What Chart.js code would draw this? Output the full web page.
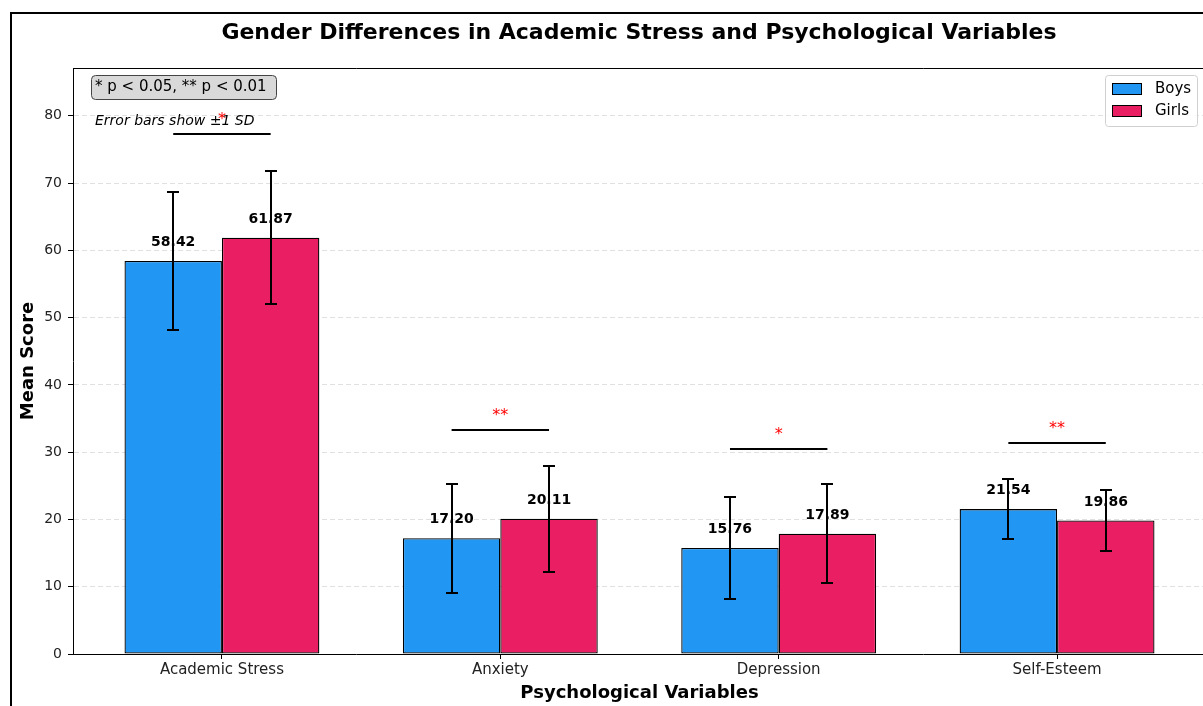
<!DOCTYPE html>
<html>
<head>
<meta charset="utf-8">
<script src="https://cdn.jsdelivr.net/npm/chart.js@4"></script>
<style>
  html, body { margin: 0; padding: 0; background: #fff; overflow: hidden; }
  #frame { position: absolute; left: 10px; top: 12px; width: 1254px; height: 700px; border: 2px solid #000; }
  canvas { display: block; }
</style>
</head>
<body>
<div id="frame"><canvas id="chart" width="1254" height="700"></canvas></div>
<script>
// data
const categories = ['Academic Stress', 'Anxiety', 'Depression', 'Self-Esteem'];
const boysMean = [58.42, 17.20, 15.76, 21.54];
const girlsMean = [61.87, 20.11, 17.89, 19.86];
const boysSD = [10.3, 8.1, 7.6, 4.4];
const girlsSD = [9.9, 7.9, 7.4, 4.5];
const sigLevel = [77.3, 33.3, 30.5, 31.3];
const sigMarks = ['*', '**', '*', '**'];
const yTicks = [0, 10, 20, 30, 40, 50, 60, 70, 80];

const FONT = '"DejaVu Sans", sans-serif';
Chart.defaults.font.family = FONT;
Chart.defaults.color = '#222';

const overlay = {
    id: 'overlay',
    afterDatasetsDraw(chart) {
        const ctx = chart.ctx;
        const y = chart.scales.y;
        const sds = [boysSD, girlsSD];
        ctx.save();

        // value labels
        ctx.font = 'bold 14px ' + FONT;
        ctx.fillStyle = '#000';
        ctx.textAlign = 'center';
        ctx.textBaseline = 'middle';
        chart.data.datasets.forEach((ds, di) => {
            chart.getDatasetMeta(di).data.forEach((bar, i) => {
                const v = ds.data[i].y;
                ctx.fillText(v.toFixed(2), bar.x, y.getPixelForValue(v) - 18.5);
            });
        });

        // error bars (+/- 1 SD)
        ctx.strokeStyle = '#000';
        ctx.lineWidth = 2;
        chart.data.datasets.forEach((ds, di) => {
            chart.getDatasetMeta(di).data.forEach((bar, i) => {
                const v = ds.data[i].y, sd = sds[di][i];
                const x = Math.round(bar.x);
                const yt = Math.round(y.getPixelForValue(v + sd));
                const yb = Math.round(y.getPixelForValue(v - sd));
                ctx.beginPath();
                ctx.moveTo(x, yt); ctx.lineTo(x, yb);
                ctx.moveTo(x - 6, yt); ctx.lineTo(x + 6, yt);
                ctx.moveTo(x - 6, yb); ctx.lineTo(x + 6, yb);
                ctx.stroke();
            });
        });

        // significance brackets
        const boys = chart.getDatasetMeta(0).data;
        const girls = chart.getDatasetMeta(1).data;
        categories.forEach((c, i) => {
            const ly = Math.round(y.getPixelForValue(sigLevel[i]));
            ctx.strokeStyle = '#000';
            ctx.lineWidth = 2;
            ctx.beginPath();
            ctx.moveTo(boys[i].x, ly);
            ctx.lineTo(girls[i].x, ly);
            ctx.stroke();
            ctx.fillStyle = '#ff0000';
            ctx.font = '16px ' + FONT;
            ctx.textBaseline = 'alphabetic';
            ctx.fillText(sigMarks[i], (boys[i].x + girls[i].x) / 2, ly - 10);
        });
        ctx.restore();
    },
    afterDraw(chart) {
        const ctx = chart.ctx;
        const a = chart.chartArea;
        ctx.save();

        // top / right spines
        ctx.strokeStyle = '#000';
        ctx.lineWidth = 1;
        ctx.beginPath();
        ctx.moveTo(Math.round(a.left) + 0.5, Math.round(a.top) + 0.5);
        ctx.lineTo(Math.round(a.right) + 0.5, Math.round(a.top) + 0.5);
        ctx.lineTo(Math.round(a.right) + 0.5, Math.round(a.bottom) + 0.5);
        ctx.stroke();

        // legend (upper right, inside the axes)
        const bx = a.right - 101, by = a.top + 7;
        ctx.beginPath();
        ctx.roundRect(bx + 0.5, by + 0.5, 92, 51, 3);
        ctx.fillStyle = 'rgba(255,255,255,0.85)';
        ctx.fill();
        ctx.strokeStyle = '#d0d0d0';
        ctx.stroke();
        ctx.font = '15px ' + FONT;
        ctx.textAlign = 'left';
        ctx.textBaseline = 'middle';
        chart.data.datasets.forEach((ds, k) => {
            const py = by + 8 + k * 22;
            ctx.fillStyle = ds.backgroundColor;
            ctx.fillRect(bx + 7.5, py + 0.5, 29, 11);
            ctx.strokeStyle = '#000';
            ctx.strokeRect(bx + 7.5, py + 0.5, 29, 11);
            ctx.fillStyle = '#000';
            ctx.fillText(ds.label, bx + 50, by + 14 + k * 22);
        });

        // notes box
        ctx.beginPath();
        ctx.roundRect(a.left + 18.5, a.top + 7.5, 185, 24, 4);
        ctx.fillStyle = '#d9d9d9';
        ctx.fill();
        ctx.strokeStyle = '#444';
        ctx.stroke();
        ctx.fillStyle = '#000';
        ctx.font = '15px ' + FONT;
        ctx.fillText('* p < 0.05, ** p < 0.01', a.left + 22, a.top + 19.5);
        ctx.font = 'italic 14px ' + FONT;
        ctx.fillText('Error bars show \u00b11 SD', a.left + 22, a.top + 53);
        ctx.restore();
    }
};

new Chart(document.getElementById('chart'), {
    type: 'bar',
    data: {
        datasets: [{
            label: 'Boys',
            data: boysMean.map((v, i) => ({x: i, y: v})),
            backgroundColor: '#2196F3',
            borderColor: '#000',
            borderWidth: 1.3,
            borderSkipped: false,
        }, {
            label: 'Girls',
            data: girlsMean.map((v, i) => ({x: i, y: v})),
            backgroundColor: '#E91E63',
            borderColor: '#000',
            borderWidth: 1.3,
            borderSkipped: false,
        }]
    },
    options: {
        responsive: false,
        animation: false,
        categoryPercentage: 0.7,
        barPercentage: 1.0,
        layout: {padding: 0},
        plugins: {
            legend: {display: false},
            tooltip: {enabled: false},
            title: {
                display: true,
                text: 'Gender Differences in Academic Stress and Psychological Variables',
                color: '#000',
                font: {size: 22, weight: 'bold'},
                padding: {top: 6, bottom: 21.6},
            },
        },
        scales: {
            x: {
                type: 'linear',
                min: -0.535,
                max: 3.535,
                offset: false,
                afterBuildTicks: (scale) => {
                    scale.ticks = categories.map((c, i) => ({value: i}));
                },
                afterFit: (scale) => { scale.height = 60; },
                ticks: {
                    callback: (v) => categories[v] ?? '',
                    color: '#222',
                    font: {size: 15},
                    padding: 2,
                    maxRotation: 0,
                    autoSkip: false,
                },
                grid: {
                    display: true,
                    offset: false,
                    drawOnChartArea: false,
                    drawTicks: true,
                    tickLength: 5,
                    tickColor: '#000',
                },
                border: {display: true, color: '#000', width: 1},
                title: {
                    display: true,
                    text: 'Psychological Variables',
                    color: '#000',
                    font: {size: 18, weight: 'bold'},
                    padding: {top: 0, bottom: 10},
                },
            },
            y: {
                min: 0,
                max: 87.1,
                afterBuildTicks: (scale) => {
                    scale.ticks = yTicks.map(v => ({value: v}));
                },
                afterFit: (scale) => { scale.width = 61; },
                ticks: {
                    color: '#222',
                    font: {size: 14},
                    padding: 6,
                },
                grid: {
                    color: 'rgba(0,0,0,0.12)',
                    tickBorderDash: [],
                    tickLength: 5,
                    tickColor: '#000',
                },
                border: {display: true, color: '#000', width: 1, dash: [5, 3]},
                title: {
                    display: true,
                    text: 'Mean Score',
                    color: '#000',
                    font: {size: 18, weight: 'bold'},
                    padding: {top: 6, bottom: 0},
                },
            },
            // empty right-hand margin so the title centres over the whole figure
            margin: {
                type: 'linear',
                position: 'right',
                display: true,
                ticks: {display: false},
                grid: {display: false},
                border: {display: false},
                afterFit: (scale) => { scale.width = 60; },
            },
        },
    },
    plugins: [overlay],
});
</script>
</body>
</html>
